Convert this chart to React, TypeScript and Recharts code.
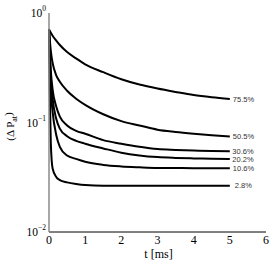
import React from 'react'
import { LineChart, Line, XAxis, YAxis } from 'recharts'

// time samples [ms]
const times = [0, 0.02, 0.05, 0.1, 0.2, 0.3, 0.5, 0.75, 1, 1.5, 2, 2.5, 3, 3.5, 4, 4.5, 5]

// (ΔP_at) for each case
const p755 = [0.71, 0.69, 0.66, 0.62, 0.56, 0.51, 0.44, 0.385, 0.34, 0.288, 0.248, 0.222, 0.204, 0.19, 0.178, 0.17, 0.164]
const p505 = [0.71, 0.58, 0.45, 0.35, 0.27, 0.236, 0.195, 0.165, 0.145, 0.119, 0.103, 0.094, 0.086, 0.082, 0.079, 0.0765, 0.0745]
const p306 = [0.71, 0.48, 0.3, 0.2, 0.14, 0.113, 0.094, 0.084, 0.079, 0.069, 0.064, 0.06, 0.0572, 0.0562, 0.0555, 0.055, 0.0547]
const p202 = [0.71, 0.42, 0.26, 0.165, 0.108, 0.088, 0.075, 0.068, 0.064, 0.058, 0.053, 0.05, 0.0483, 0.0475, 0.047, 0.0466, 0.0464]
const p106 = [0.71, 0.36, 0.2, 0.125, 0.077, 0.06, 0.05, 0.0465, 0.0438, 0.041, 0.0397, 0.039, 0.0385, 0.0384, 0.0383, 0.0383, 0.0382]
const p028 = [0.71, 0.2, 0.065, 0.038, 0.0318, 0.0298, 0.0284, 0.0274, 0.0268, 0.0265, 0.0265, 0.0265, 0.0265, 0.0265, 0.0265, 0.0265, 0.0265]

const series = [
  { key: 'p755', label: '75.5%', values: p755, dx: 3 },
  { key: 'p505', label: '50.5%', values: p505, dx: 3 },
  { key: 'p306', label: '30.6%', values: p306, dx: 2.5 },
  { key: 'p202', label: '20.2%', values: p202, dx: 2.5 },
  { key: 'p106', label: '10.6%', values: p106, dx: 3 },
  { key: 'p028', label: '2.8%', values: p028, dx: 5 },
]

const xTicks = [0, 1, 2, 3, 4, 5, 6]
const yMajor = [0.01, 0.1, 1]
const yMinor = [0.02, 0.03, 0.04, 0.05, 0.06, 0.07, 0.08, 0.09, 0.2, 0.3, 0.4, 0.5, 0.6, 0.7, 0.8, 0.9]

const data = times.map((t, i) => {
  const row: { [key: string]: number } = { t }
  series.forEach((s) => {
    row[s.key] = s.values[i]
  })
  return row
})

const serif = "'Liberation Serif', 'Times New Roman', serif"
const sans = "'Liberation Sans', Arial, sans-serif"

function PowerTick({ x, y, payload }: any) {
  const exp = Math.round(Math.log10(payload.value))
  return (
    <text x={x} y={y} textAnchor="end" fontFamily={serif} fill="#000">
      <tspan fontSize={11.5} dy="0.35em">10</tspan>
      <tspan fontSize={7.5} dy={-6}>{exp < 0 ? '\u2212' + -exp : exp}</tspan>
    </text>
  )
}

function XTick({ x, y, payload }: any) {
  return (
    <text x={x} y={y} dy="0.71em" textAnchor="middle" fontFamily={serif} fontSize={12} fill="#000">
      {payload.value}
    </text>
  )
}

function YLabel({ viewBox }: any) {
  const x = viewBox.x + 14
  const y = viewBox.y + viewBox.height / 2 + 4
  return (
    <text x={x} y={y} transform={`rotate(-90 ${x} ${y})`} textAnchor="middle" fontFamily={serif} fontSize={11} fill="#000">
      (Δ P<tspan fontSize={8} dy={3}>at</tspan><tspan dy={-5}>)</tspan>
    </text>
  )
}

function XLabel({ viewBox }: any) {
  return (
    <text x={viewBox.x + viewBox.width / 2 + 1} y={viewBox.y + 25.5} textAnchor="middle" fontFamily={serif} fontSize={12} fill="#000">
      t [ms]
    </text>
  )
}

const endLabel = (text: string, dx: number) => (props: any) => {
  if (props.index !== times.length - 1) return <g />
  return (
    <text x={props.x + dx} y={props.y} dy="0.35em" fontFamily={sans} fontSize={7.5} fill="#333">
      {text}
    </text>
  )
}

export default function App() {
  return (
    <div style={{ position: 'absolute', left: 0, top: 0 }}>
      <LineChart width={275} height={261} data={data} margin={{ top: 13, right: 9, left: 0, bottom: 0 }}>
        <XAxis
          xAxisId="main"
          dataKey="t"
          type="number"
          domain={[0, 6]}
          ticks={xTicks}
          height={29}
          tickLine={false}
          tickSize={0}
          tickMargin={3}
          axisLine={{ stroke: '#000' }}
          tick={<XTick />}
          label={{ content: XLabel }}
        />
        <XAxis xAxisId="bottomTicks" dataKey="t" type="number" domain={[0, 6]} ticks={xTicks} mirror height={0} tick={false} tickSize={3} axisLine={false} tickLine={{ stroke: '#000' }} />
        <XAxis xAxisId="top" dataKey="t" type="number" domain={[0, 6]} ticks={xTicks} orientation="top" mirror height={0} tick={false} tickSize={3} axisLine={{ stroke: '#000' }} tickLine={{ stroke: '#000' }} />
        <YAxis
          yAxisId="main"
          scale="log"
          domain={[0.01, 1]}
          allowDataOverflow
          ticks={yMajor}
          width={49}
          tickLine={false}
          tickSize={0}
          tickMargin={3}
          axisLine={{ stroke: '#8a8a8a', strokeWidth: 1.5 }}
          tick={<PowerTick />}
          label={{ content: YLabel }}
        />
        <YAxis yAxisId="leftMajor" scale="log" domain={[0.01, 1]} allowDataOverflow ticks={yMajor} mirror width={0} tick={false} tickSize={4} axisLine={false} tickLine={{ stroke: '#555' }} />
        <YAxis yAxisId="leftMinor" scale="log" domain={[0.01, 1]} allowDataOverflow ticks={yMinor} mirror width={0} tick={false} tickSize={2} axisLine={false} tickLine={{ stroke: '#555' }} />
        <YAxis yAxisId="rightMajor" scale="log" domain={[0.01, 1]} allowDataOverflow ticks={yMajor} orientation="right" mirror width={0} tick={false} tickSize={4} axisLine={{ stroke: '#000' }} tickLine={{ stroke: '#000' }} />
        <YAxis yAxisId="rightMinor" scale="log" domain={[0.01, 1]} allowDataOverflow ticks={yMinor} orientation="right" mirror width={0} tick={false} tickSize={2} axisLine={false} tickLine={{ stroke: '#000' }} />
        {series.map((s) => (
          <Line
            key={s.key}
            xAxisId="main"
            yAxisId="main"
            type="monotone"
            dataKey={s.key}
            stroke="#000"
            strokeWidth={2}
            dot={false}
            isAnimationActive={false}
            label={endLabel(s.label, s.dx)}
          />
        ))}
      </LineChart>
    </div>
  )
}
